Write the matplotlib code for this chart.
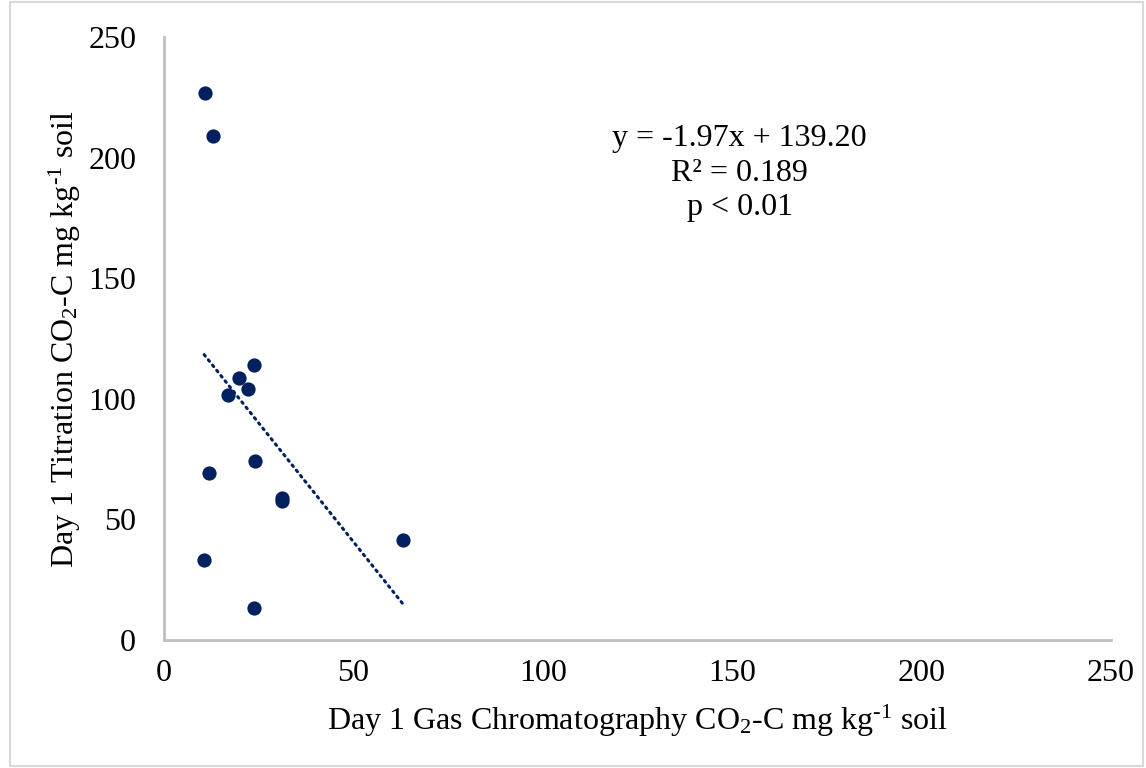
import numpy as np
import matplotlib
matplotlib.use("Agg")
import matplotlib.pyplot as plt
from matplotlib.patches import Rectangle

# GC vs titration, day 1
gc_co2 = [10.8, 13.0, 23.8, 19.8, 22.2, 16.9, 11.9, 24.0, 31.2, 31.2, 63.1, 10.6, 23.8]
titration_co2 = [226.8, 209.0, 114.0, 108.6, 104.0, 101.6, 69.2, 74.2, 58.9, 57.6, 41.5, 33.2, 13.3]

slope = -1.97
intercept = 139.20
r2_text = "R² = 0.189"
p_text = "p < 0.01"

ticks = [0, 50, 100, 150, 200, 250]

plt.rcParams['font.family'] = ['Liberation Serif', 'DejaVu Serif']
plt.rcParams['mathtext.fontset'] = 'custom'
plt.rcParams['mathtext.rm'] = 'Liberation Serif'
plt.rcParams['mathtext.it'] = 'Liberation Serif:italic'

dark_blue = '#002060'
grey = '#bfbfbf'
fs = 23

fig = plt.figure(figsize=(11.46, 7.68), dpi=100)
ax = fig.add_axes([0.1431, 0.1667, 0.8264, 0.7851])

ax.scatter(gc_co2, titration_co2, s=105, color=dark_blue, zorder=3, linewidths=0)

# linear trendline over the data range
xs = np.array([min(gc_co2), max(gc_co2)])
ax.plot(xs, slope * xs + intercept, linestyle=(0, (0.6, 1.6)), color=dark_blue,
        linewidth=2.2, dash_capstyle='round', zorder=2)

ax.set_xlim(0, 250)
ax.set_ylim(0, 250)
ax.set_xticks(ticks)
ax.set_yticks(ticks)
ax.tick_params(length=0, labelsize=fs, pad=14)
ax.tick_params(axis='y', pad=20)

for side in ['top', 'right']:
    ax.spines[side].set_visible(False)
for side in ['left', 'bottom']:
    ax.spines[side].set_color(grey)
    ax.spines[side].set_linewidth(2)

ax.set_xlabel(r"Day 1 Gas Chromatography CO$_2$-C mg kg$^{\text{-}1}$ soil", fontsize=fs, labelpad=10)
ax.set_ylabel(r"Day 1 Titration CO$_2$-C mg kg$^{\text{-}1}$ soil", fontsize=fs, labelpad=4)

eq_text = f"y = {slope:.2f}x + {intercept:.2f}"
ax.text(0.608, 0.831, eq_text, transform=ax.transAxes, ha='center', va='center', fontsize=fs)
ax.text(0.608, 0.774, r2_text, transform=ax.transAxes, ha='center', va='center', fontsize=fs)
ax.text(0.608, 0.717, p_text, transform=ax.transAxes, ha='center', va='center', fontsize=fs)

fig.patches.append(Rectangle((0.009, 0.002), 0.988, 0.996, transform=fig.transFigure,
                             fill=False, edgecolor='#d9d9d9', linewidth=1.5))

fig.savefig("out.png", dpi=100)
